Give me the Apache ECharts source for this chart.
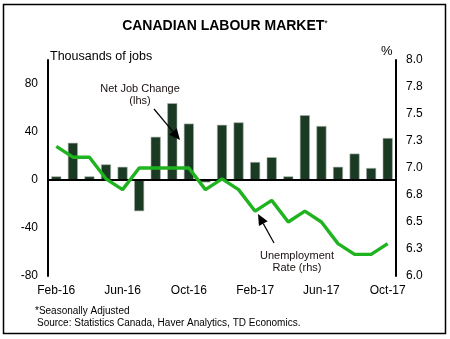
<!DOCTYPE html>
<html><head><meta charset="utf-8">
<script src="https://cdn.jsdelivr.net/npm/echarts@6/dist/echarts.min.js"></script>
<style>html,body{margin:0;padding:0;background:#fff}#c{width:450px;height:339px}</style>
</head><body><div id="c"></div>
<script>
const categories = ['Feb-16','Mar-16','Apr-16','May-16','Jun-16','Jul-16','Aug-16','Sep-16','Oct-16','Nov-16','Dec-16','Jan-17','Feb-17','Mar-17','Apr-17','May-17','Jun-17','Jul-17','Aug-17','Sep-17','Oct-17'];
const netJobChange = [3,31,3,13,11,-26,36,64,47,-2,46,48,15,19,3,54,45,11,22,10,35];
const unemploymentRate = [7.2,7.1,7.1,6.9,6.8,7.0,7.0,7.0,7.0,6.8,6.9,6.8,6.6,6.7,6.5,6.6,6.5,6.3,6.2,6.2,6.3];
const leftTicks = {min:-80,max:100,interval:40};
const rightTicks = {min:6.0,max:8.0,interval:0.25};

const FONT = '"Liberation Sans", Arial, sans-serif';
const chart = echarts.init(document.getElementById('c'));

function arrow(x1,y1,x2,y2){
  const ang = Math.atan2(y2-y1,x2-x1);
  const L = 11, W = 5;
  const bx = x2 - L*Math.cos(ang), by = y2 - L*Math.sin(ang);
  const px = -Math.sin(ang)*W, py = Math.cos(ang)*W;
  return [
    {type:'line',shape:{x1:x1,y1:y1,x2:bx,y2:by},style:{stroke:'#000',lineWidth:1.2},z:10},
    {type:'polygon',shape:{points:[[x2,y2],[bx+px,by+py],[bx-px,by-py]]},style:{fill:'#000'},z:10}
  ];
}

const option = {
  animation:false,
  textStyle:{fontFamily:FONT},
  grid:{left:48,right:54,top:60,bottom:63,containLabel:false},
  xAxis:{
    type:'category',data:categories,
    axisLine:{show:false},axisTick:{show:false},
    axisLabel:{interval:3,color:'#000',fontSize:12,fontFamily:FONT,margin:9}
  },
  yAxis:[
    {type:'value',min:leftTicks.min,max:leftTicks.max,interval:leftTicks.interval,
     axisLine:{show:true,lineStyle:{color:'#000',width:2}},axisTick:{show:false},
     splitLine:{show:false},
     axisLabel:{color:'#000',fontSize:12,fontFamily:FONT,margin:10,showMaxLabel:false}},
    {type:'value',min:rightTicks.min,max:rightTicks.max,interval:rightTicks.interval,position:'right',
     axisLine:{show:true,lineStyle:{color:'#000',width:2}},axisTick:{show:false},
     splitLine:{show:false},
     axisLabel:{color:'#000',fontSize:12,fontFamily:FONT,margin:10,formatter:v=>v.toFixed(1)}}
  ],
  series:[
    {type:'bar',data:netJobChange,yAxisIndex:0,barWidth:10,
     itemStyle:{color:'#1b3a24',borderColor:'#aab5ad',borderWidth:0.6},
     markLine:{silent:true,symbol:'none',label:{show:false},
       lineStyle:{color:'#000',width:2,type:'solid'},data:[{yAxis:0}]}},
    {type:'line',data:unemploymentRate,yAxisIndex:1,symbol:'none',
     lineStyle:{color:'#1fb41f',width:3.4},z:5}
  ],
  graphic:[
    {type:'rect',shape:{x:3.5,y:4.5,width:442,height:329},style:{fill:'none',stroke:'#000',lineWidth:1.5},z:0},
    {type:'text',left:'center',top:19,style:{text:'{t|CANADIAN LABOUR MARKET}{s|*}',
      rich:{t:{fontSize:14,fontWeight:'bold',fontFamily:FONT,fill:'#000'},s:{fontSize:9,fontFamily:FONT,fill:'#000',verticalAlign:'top',padding:[0,0,6,0]}}}},
    {type:'text',x:50,y:50,style:{text:'Thousands of jobs',fontSize:12.5,fontFamily:FONT,fill:'#000'}},
    {type:'text',x:381,y:45,style:{text:'%',fontSize:13,fontFamily:FONT,fill:'#000'}},
    {type:'text',x:140,y:83,style:{text:'Net Job Change\n(lhs)',fontSize:11,lineHeight:12,fontFamily:FONT,fill:'#1a1010',align:'center'}},
    {type:'text',x:297,y:250,style:{text:'Unemployment\nRate (rhs)',fontSize:11,lineHeight:12,fontFamily:FONT,fill:'#1a1010',align:'center'}},
    {type:'text',x:35,y:306,style:{text:'*Seasonally Adjusted',fontSize:10,fontFamily:FONT,fill:'#000'}},
    {type:'text',x:37,y:318,style:{text:'Source: Statistics Canada, Haver Analytics, TD Economics.',fontSize:10,fontFamily:FONT,fill:'#000'}}
  ].concat(arrow(154,109,180,140)).concat(arrow(274,243,258,214))
};
chart.setOption(option);
</script>
</body></html>
